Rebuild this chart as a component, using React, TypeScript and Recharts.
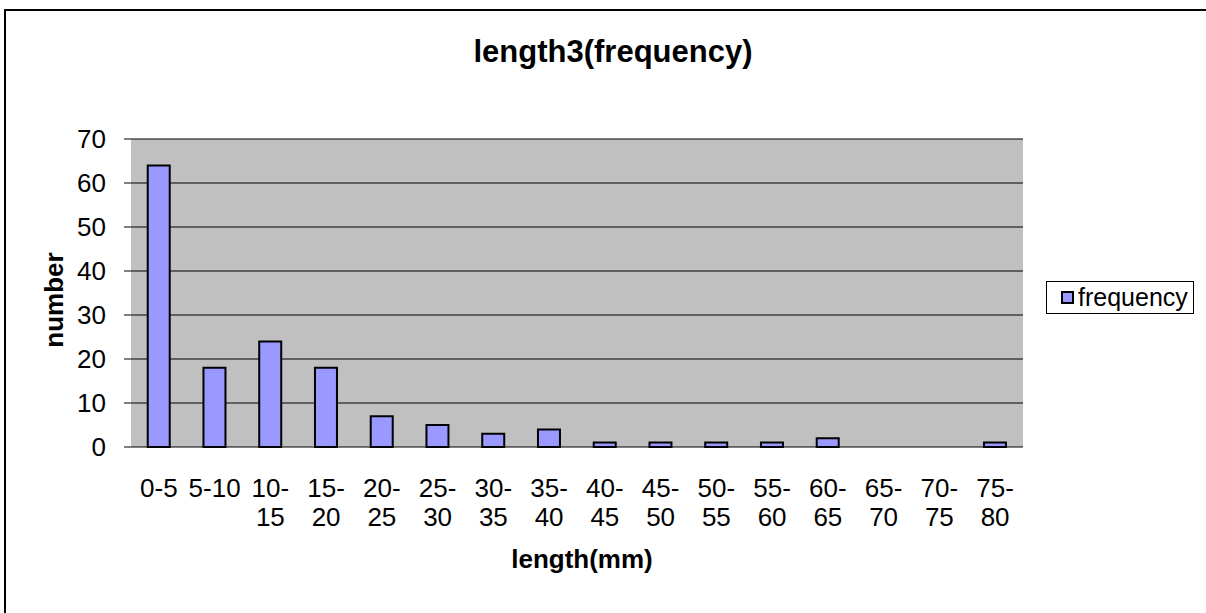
import { BarChart, Bar, XAxis, YAxis, CartesianGrid, Legend, ReferenceArea } from 'recharts';

// length bins (mm) and how many fell in each
const ranges = ['0-5', '5-10', '10-15', '15-20', '20-25', '25-30', '30-35', '35-40', '40-45', '45-50', '50-55', '55-60', '60-65', '65-70', '70-75', '75-80'];
const frequency = [64, 18, 24, 18, 7, 5, 3, 4, 1, 1, 1, 1, 2, 0, 0, 1];
const yTicks = [0, 10, 20, 30, 40, 50, 60, 70];
const edgeTicks = [...ranges.map((_, i) => i), ranges.length];

const data = ranges.map((range, i) => ({ range, frequency: frequency[i] }));

const font = "Arial, 'Liberation Sans', sans-serif";

// Excel wraps the long labels after the dash
function RangeTick({ x, y, payload }: any) {
  const label: string = payload.value;
  const cut = label.indexOf('-') + 1;
  const lines = label.length > 4 ? [label.slice(0, cut), label.slice(cut)] : [label];
  return (
    <text x={x} y={y} textAnchor="middle" fontSize={26} fill="#000" fontFamily={font}>
      {lines.map((l, i) => (
        <tspan key={i} x={x} dy={i === 0 ? 50 : 29}>{l}</tspan>
      ))}
    </text>
  );
}

function LegendBox({ payload }: any) {
  return (
    <div style={{ width: 146, height: 31, border: '1px solid #000', background: '#fff', display: 'flex', alignItems: 'center', fontFamily: font, fontSize: 25, color: '#000' }}>
      {(payload || []).map((p: any) => (
        <span key={p.value} style={{ display: 'flex', alignItems: 'center' }}>
          <span style={{ width: 9, height: 9, background: '#9999FF', border: '2px solid #000', marginLeft: 14, marginRight: 4 }} />
          {p.value}
        </span>
      ))}
    </div>
  );
}

export default function App() {
  return (
    <div style={{ position: 'absolute', left: 0, top: 0, width: 1206, height: 613, overflow: 'hidden', background: '#fff' }}>
      <div style={{ position: 'absolute', left: 4, top: 9, width: 2, height: 700, background: '#000' }} />
      <div style={{ position: 'absolute', left: 4, top: 9, width: 1300, height: 2, background: '#000' }} />
      <div style={{ position: 'absolute', left: 0, top: 37, width: 1226, textAlign: 'center', fontFamily: font, fontSize: 31, lineHeight: '30px', fontWeight: 'bold' }}>
        length3(frequency)
      </div>
      <div style={{ position: 'absolute', left: 0, top: 0 }}>
        <BarChart width={1206} height={613} data={data} margin={{ top: 139, right: 35, bottom: 0, left: 0 }} barCategoryGap="30%">
          <CartesianGrid xAxisId="cat" vertical={false} fill="#C0C0C0" fillOpacity={1} stroke="#000" strokeWidth={1} horizontalValues={yTicks} />
          <XAxis
            xAxisId="edges"
            type="number"
            domain={[0, ranges.length]}
            ticks={edgeTicks}
            tick={false}
            tickSize={7}
            height={0}
            axisLine={{ stroke: '#000', strokeWidth: 2 }}
            tickLine={{ stroke: '#000' }}
          />
          <XAxis
            xAxisId="cat"
            dataKey="range"
            interval={0}
            height={166}
            tickSize={0}
            tickMargin={0}
            tickLine={false}
            axisLine={false}
            tick={<RangeTick />}
            label={{ value: 'length(mm)', position: 'insideBottom', offset: 45, dx: 5, fill: '#000', fontSize: 26, fontWeight: 'bold', fontFamily: font }}
          />
          <YAxis
            domain={[0, 70]}
            ticks={yTicks}
            interval={0}
            width={131}
            tickSize={7}
            tickMargin={18}
            axisLine={false}
            tickLine={{ stroke: '#000' }}
            tick={{ fill: '#000', fontSize: 26, fontFamily: font }}
            label={{
              content: () => (
                <text x={63} y={300} transform="rotate(-90 63 300)" textAnchor="middle" fontSize={26} fontWeight="bold" fontFamily={font} fill="#000">
                  number
                </text>
              ),
            }}
          />
          <ReferenceArea xAxisId="edges" x1={0} x2={ranges.length} y1={0} y2={70} fill="none" stroke="#808080" strokeWidth={2} />
          <Legend
            layout="horizontal"
            verticalAlign="middle"
            align="right"
            wrapperStyle={{ position: 'absolute', left: 1046, top: 281, width: 148, height: 33 }}
            content={<LegendBox />}
          />
          <Bar xAxisId="cat" dataKey="frequency" name="frequency" fill="#9999FF" stroke="#000" strokeWidth={2} isAnimationActive={false} />
        </BarChart>
      </div>
    </div>
  );
}
